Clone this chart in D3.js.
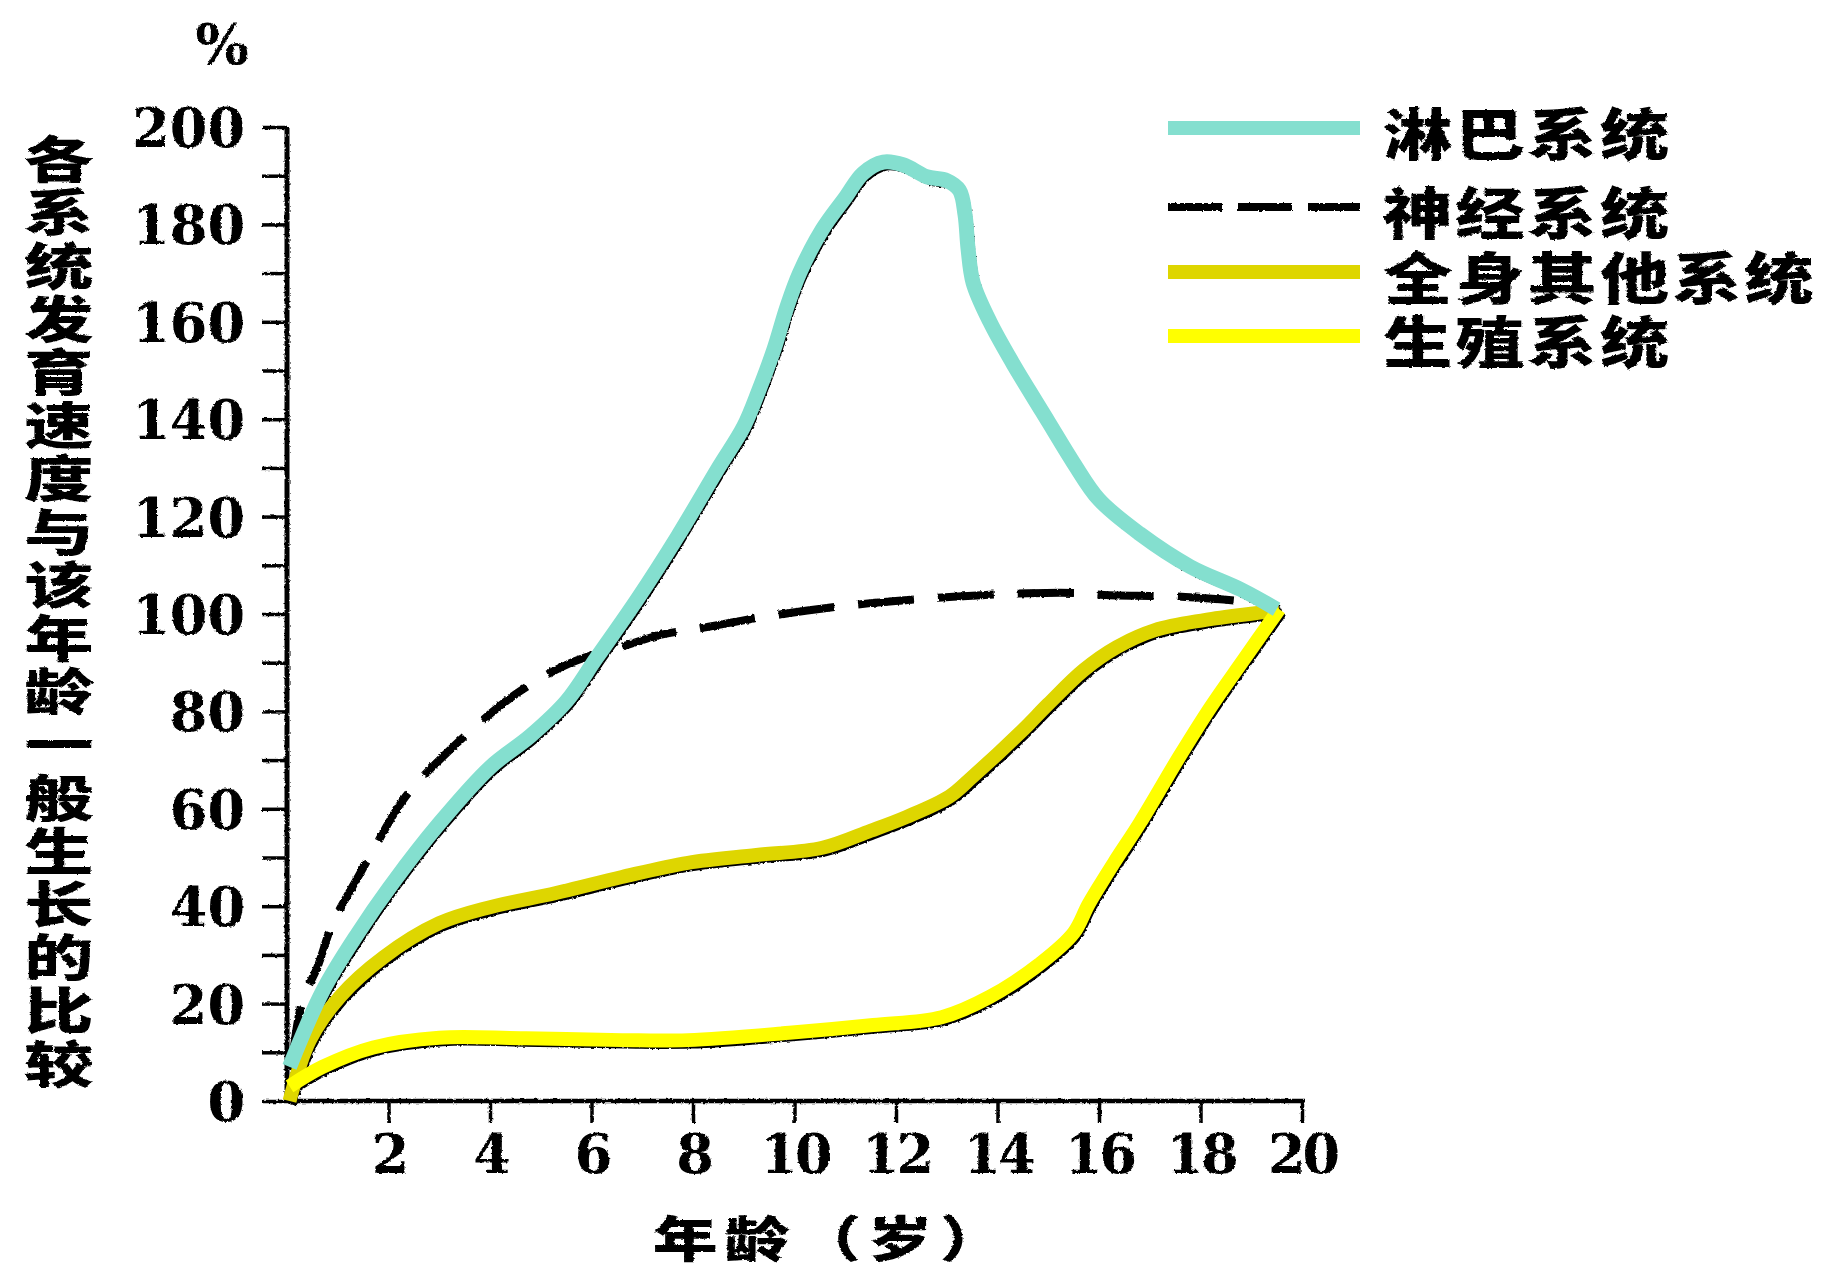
<!DOCTYPE html>
<html>
<head>
<meta charset="utf-8">
<script src="https://cdn.jsdelivr.net/npm/d3@7"></script>
<style>
  html, body { margin: 0; padding: 0; background: #ffffff; }
  svg { display: block; }
  .num { font-family: "DejaVu Serif", "Liberation Serif", serif; font-weight: bold; fill: #000; }
  .cjk { font-family: "Noto Sans CJK SC", sans-serif; font-weight: 900; fill: #000; }
  .cjk-tight { font-family: "Liberation Sans", "Noto Sans CJK SC", sans-serif; font-weight: 900; fill: #000; }
</style>
</head>
<body>
<svg id="chart" width="1823" height="1274"></svg>
<script>
// ---------------- data (age in years, % of general growth) ----------------
const yTicks = [0, 20, 40, 60, 80, 100, 120, 140, 160, 180, 200];
const xTicks = [2, 4, 6, 8, 10, 12, 14, 16, 18, 20];
const yAxisTitle = "各系统发育速度与该年龄一般生长的比较";
const xAxisTitle = "年龄（岁）";
const unitLabel = "%";
const seriesNames = ["淋巴系统", "神经系统", "全身其他系统", "生殖系统"];

const lymphatic = [[0.05,7],[0.7,22.5],[1.4,34.5],[2.1,45],[3.0,57],[4.0,68.5],[4.8,75],[5.5,82],
  [6.1,91],[6.9,103],[7.7,116],[8.5,130],[9.0,138.5],[9.3,146],[9.6,154.5],[9.85,163],[10.1,170],
  [10.55,179],[11.0,185.5],[11.35,190.5],[11.75,192.8],[12.15,192.2],[12.6,189.8],[13.0,189],
  [13.25,187],[13.36,182],[13.42,175],[13.52,168],[13.85,160],[14.3,151.5],[15.0,139.5],
  [15.5,131],[16.0,123.5],[16.8,116.5],[17.8,109.7],[18.8,105],[19.5,101]];
const nervous = [[0.1,8],[0.3,20.5],[0.6,27.5],[0.9,36.5],[1.4,46],[1.7,51.5],[2.3,62],[3.2,72],
  [4.5,83.5],[5.6,90],[6.6,93.3],[7.4,95.8],[8.1,97],[9.4,99.4],[11.1,101.8],[12.8,103.3],
  [14.4,104.2],[15.6,104.3],[16.1,103.9],[17.7,103.5],[19.1,102.2],[19.55,101]];
const general = [[0.05,0],[0.45,12.5],[1.05,21.5],[1.9,29.5],[3.0,36.5],[4.0,39.8],[5.3,42.7],
  [6.6,46],[7.9,48.9],[9.25,50.5],[10.55,52],[11.5,55.5],[12.2,58.3],[13.05,62.5],[13.5,66.5],
  [14.5,76.2],[15.0,81.5],[15.7,88.5],[16.35,93.2],[17.1,96.7],[18.1,98.8],[19.3,100.5],[19.55,101]];
const reproductive = [[0.05,3],[0.7,7],[1.7,11],[3.0,13],[4.6,12.9],[6.6,12.5],[7.9,12.5],[9.9,14],
  [11.55,15.6],[12.9,17.2],[13.85,21.4],[14.85,28.3],[15.5,34.5],[15.8,40.5],[16.3,49],[16.8,57],
  [17.6,71],[18.2,80.9],[18.85,90.6],[19.55,101]];

// ---------------- layout ----------------
const svg = d3.select("#chart");
const x = d3.scaleLinear().domain([0, 20]).range([287, 1302]);
const y = d3.scaleLinear().domain([0, 200]).range([1101, 127]);

// rough "scanned" filter; large user-space region so nothing gets clipped
const defs = svg.append("defs");
const f = defs.append("filter").attr("id", "rough").attr("filterUnits", "userSpaceOnUse")
  .attr("x", -3000).attr("y", -3000).attr("width", 9000).attr("height", 9000);
f.append("feTurbulence").attr("type", "fractalNoise").attr("baseFrequency", 0.35).attr("numOctaves", 2).attr("seed", 3).attr("result", "n");
f.append("feDisplacementMap").attr("in", "SourceGraphic").attr("in2", "n").attr("scale", 3).attr("xChannelSelector", "R").attr("yChannelSelector", "G");

// axes
const yAxis = d3.axisLeft(y).tickValues(d3.range(0, 201, 10)).tickSize(25).tickPadding(17)
  .tickFormat(d => yTicks.includes(d) ? d : "");
const gy = svg.append("g").attr("transform", `translate(${x(0)},0)`).call(yAxis).attr("filter", "url(#rough)");
gy.select(".domain").attr("stroke", "#000").attr("stroke-width", 5).attr("d", `M0,${y(200)}V${y(0)}`);
gy.selectAll(".tick line").attr("stroke", "#000").attr("stroke-width", 3.5);
gy.selectAll(".tick text").attr("class", "num").attr("font-size", 54).attr("dy", "0.36em");

const xAxis = d3.axisBottom(x).tickValues(xTicks).tickSize(22).tickPadding(12);
const gx = svg.append("g").attr("transform", `translate(0,${y(0)})`).call(xAxis).attr("filter", "url(#rough)");
gx.select(".domain").attr("stroke", "#000").attr("stroke-width", 4.5).attr("d", `M${x(0)},0H${x(20) + 3}`);
gx.selectAll(".tick line").attr("stroke", "#000").attr("stroke-width", 3.5);
gx.selectAll(".tick text").attr("class", "num").attr("font-size", 54).attr("letter-spacing", -3);

// unit label
svg.append("text").attr("class", "num").attr("x", 222).attr("y", 44).attr("font-size", 56)
  .attr("text-anchor", "middle").attr("dominant-baseline", "central").attr("filter", "url(#rough)").text(unitLabel);

// y axis title, vertical (single text element)
svg.append("text").attr("class", "cjk").attr("font-size", 66).attr("letter-spacing", 4)
  .style("writing-mode", "vertical-rl").style("text-orientation", "upright")
  .attr("filter", "url(#rough)")
  .attr("transform", `translate(59,134) scale(1.05,0.76)`)
  .text(yAxisTitle);

// x axis title
svg.append("text").attr("class", "cjk").attr("font-size", 58).attr("letter-spacing", 6)
  .attr("text-anchor", "middle").attr("dominant-baseline", "central").attr("filter", "url(#rough)")
  .attr("transform", `translate(832,1236) scale(1.12,0.85)`).text(xAxisTitle);

// ---------------- lines ----------------
const line = d3.line().x(d => x(d[0])).y(d => y(d[1])).curve(d3.curveCatmullRom.alpha(0.5));

// original black curves (scan) underneath
const under = svg.append("g").attr("filter", "url(#rough)").attr("transform", "translate(3,4)");
[lymphatic, general, reproductive].forEach(s => {
  under.append("path").attr("d", line(s)).attr("fill", "none").attr("stroke", "#000").attr("stroke-width", 9);
});

// nervous system: black dashed
svg.append("path").attr("d", line(nervous)).attr("fill", "none").attr("stroke", "#000")
  .attr("stroke-width", 8).attr("stroke-dasharray", "56 24").attr("filter", "url(#rough)");

const colors = { lymph: "#84dfcf", general: "#ded600", repro: "#ffff00" };
svg.append("path").attr("d", line(general)).attr("fill", "none").attr("stroke", colors.general)
  .attr("stroke-width", 14).attr("stroke-linejoin", "round");
svg.append("path").attr("d", line(reproductive)).attr("fill", "none").attr("stroke", colors.repro)
  .attr("stroke-width", 14).attr("stroke-linejoin", "round");
svg.append("path").attr("d", line(lymphatic)).attr("fill", "none").attr("stroke", colors.lymph)
  .attr("stroke-width", 15).attr("stroke-linejoin", "round");

// ---------------- legend ----------------
const legendY = [128, 207, 272, 336];
const legendStyles = [
  { stroke: colors.lymph, width: 14, dash: null },
  { stroke: "#000", width: 8, dash: "54 16" },
  { stroke: colors.general, width: 14, dash: null },
  { stroke: colors.repro, width: 14, dash: null }
];
const lg = svg.append("g");
seriesNames.forEach((name, i) => {
  const st = legendStyles[i];
  const p = lg.append("line").attr("x1", 1168).attr("x2", 1360).attr("y1", legendY[i]).attr("y2", legendY[i])
    .attr("stroke", st.stroke).attr("stroke-width", st.width);
  if (st.dash) p.attr("stroke-dasharray", st.dash).attr("filter", "url(#rough)");
  lg.append("text").attr("class", "cjk-tight").attr("font-size", 62).attr("letter-spacing", 2.5)
    .attr("dominant-baseline", "central").attr("filter", "url(#rough)")
    .attr("transform", `translate(1383,${legendY[i] + 8}) scale(1.12,0.9)`).text(name);
});
</script>
</body>
</html>
